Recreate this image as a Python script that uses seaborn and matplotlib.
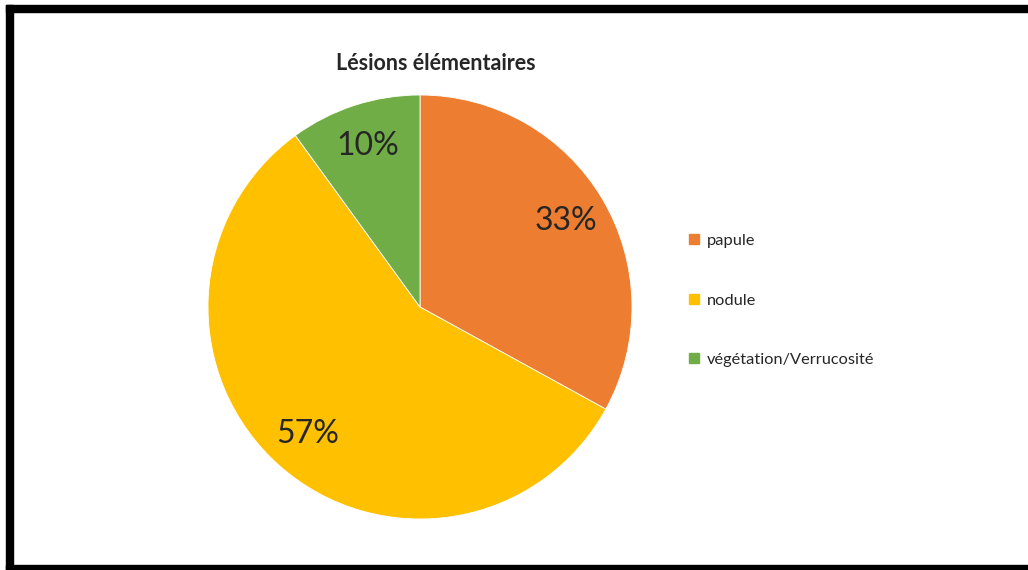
import matplotlib
matplotlib.use("Agg")
import matplotlib.pyplot as plt
from matplotlib.patches import Rectangle
from matplotlib.lines import Line2D
import seaborn as sns

categories = ["papule", "nodule", "végétation/Verrucosité"]
values = [33, 57, 10]
colors = ["#ED7D31", "#FFC000", "#70AD47"]
title = "Lésions élémentaires"

sns.set_theme(style="white")
plt.rcParams['font.family'] = ['Lato', 'DejaVu Sans']

W, H = 1028, 570
fig = plt.figure(figsize=(W / 100, H / 100), dpi=100)
fig.patch.set_facecolor("white")

cx, cy, r = 420, 307, 212
ax = fig.add_axes([(cx - r) / W, (H - cy - r) / H, 2 * r / W, 2 * r / H])
wedges, texts, autotexts = ax.pie(
    values, colors=colors, startangle=90, counterclock=False,
    autopct=lambda p: f"{p:.0f}%", pctdistance=0.8,
    wedgeprops=dict(linewidth=0.6, edgecolor="white"),
    textprops=dict(fontsize=23, color="#262626"))
ax.set_aspect("equal")
ax.set_xlim(-1, 1)
ax.set_ylim(-1, 1)
ax.axis("off")

fig.text(436 / W, 1 - 63 / H, title, ha="center", va="center",
         fontsize=15.5, fontweight="bold", color="#262626")

handles = [Line2D([], [], marker="s", linestyle="none", markersize=7,
                  markerfacecolor=c, markeredgecolor=c) for c in colors]
leg = fig.legend(handles, categories, loc="upper left",
                 bbox_to_anchor=(679 / W, 1 - 227 / H), frameon=False,
                 fontsize=11.8, labelspacing=2.75, handletextpad=0.3,
                 handlelength=1.0, borderaxespad=0)
for t in leg.get_texts():
    t.set_color("#262626")

# black frame
fig.patches.append(Rectangle((6 / W, 1 - 12 / H), 1 - 6 / W, 7 / H,
                             transform=fig.transFigure, color="black", zorder=10))
fig.patches.append(Rectangle((6 / W, 0), 7 / W, 1 - 5 / H,
                             transform=fig.transFigure, color="black", zorder=10))
fig.patches.append(Rectangle((6 / W, 0), 1 - 6 / W, 5 / H,
                             transform=fig.transFigure, color="black", zorder=10))

fig.savefig("out.png", dpi=100)
